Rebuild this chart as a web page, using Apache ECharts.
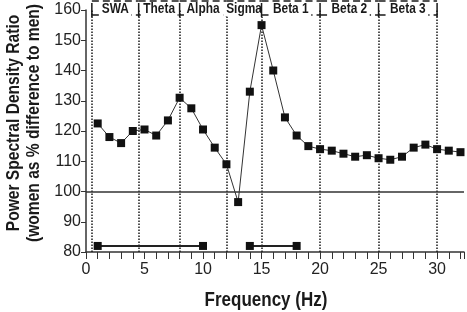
<!DOCTYPE html>
<html><head><meta charset="utf-8">
<script src="https://cdn.jsdelivr.net/npm/echarts@6/dist/echarts.min.js"></script>
<style>html,body{margin:0;padding:0;background:#fff}#c{width:467px;height:312px}</style>
</head><body><div id="c"></div>
<script>
// ---- data ----
const freqs = [1,2,3,4,5,6,7,8,9,10,11,12,13,14,15,16,17,18,19,20,21,22,23,24,25,26,27,28,29,30,31,32];
const ratios = [122.5,118,116,120,120.5,118.5,123.5,131,127.5,120.5,114.5,109,96.5,133,155,140,124.5,118.5,115,114,113.5,112.5,111.5,112,111,110.5,111.5,114.5,115.5,114,113.5,113];
const sigSegments = [[1,10],[14,18]];
const sigLevel = 82;
const refLevel = 100;
const bandEdges = [0.5,4.5,8,12,15,20,25,30];
const bandNames = ['SWA','Theta','Alpha','Sigma','Beta 1','Beta 2','Beta 3'];
const yMin = 80, yMax = 160, yStep = 10;
const xMin = 0, xMax = 32.3, xStep = 1, xLabelEvery = 5;
const xTitle = 'Frequency (Hz)';
const yTitle = 'Power Spectral Density Ratio\n(women as % difference to men)';

const FONT = '"Liberation Sans",Arial,sans-serif';
const INK = '#1a1a1a';

const chart = echarts.init(document.getElementById('c'), null, {renderer:'canvas'});

const bandData = bandNames.map((n,i)=>[bandEdges[i], bandEdges[i+1]]);

const series = [
  {
    type:'line', name:'ratio',
    data: freqs.map((f,i)=>[f, ratios[i]]),
    symbol:'rect', symbolSize:8,
    itemStyle:{color:'#111'},
    lineStyle:{color:'#333', width:1},
    z:5,
    markLine:{
      silent:true, symbol:'none', label:{show:false}, animation:false,
      lineStyle:{type:'dotted', color:INK, width:1.5},
      data: bandEdges.map(x=>({xAxis:x})).concat([{yAxis:refLevel, lineStyle:{type:'solid', color:'#333', width:1.5}}])
    }
  }
];
sigSegments.forEach(seg=>{
  series.push({
    type:'line', data: seg.map(x=>[x, sigLevel]),
    symbol:'rect', symbolSize:8,
    itemStyle:{color:'#111'},
    lineStyle:{color:'#222', width:2}, z:6
  });
});
series.push({
  type:'custom', clip:false, silent:true,
  data: bandData,
  encode:{x:[0,1]},
  renderItem:function(params, api){
    const s = api.value(0), e = api.value(1);
    const p0 = api.coord([s, yMax]), p1 = api.coord([e, yMax]);
    const y0 = p0[1];
    const last = params.dataIndex === bandNames.length-1;
    const ch = [
      {type:'line', shape:{x1:p0[0], y1:y0-9, x2:p1[0], y2:y0-9}, style:{stroke:INK, lineWidth:1.5, lineDash:[7,4]}},
      {type:'line', shape:{x1:p0[0], y1:y0+5, x2:p1[0], y2:y0+5}, style:{stroke:INK, lineWidth:1.5, lineDash:[7,4]}},
      {type:'line', shape:{x1:p0[0], y1:y0-7, x2:p0[0], y2:y0+7}, style:{stroke:INK, lineWidth:1.5}}
    ];
    if(last) ch.push({type:'line', shape:{x1:p1[0], y1:y0-7, x2:p1[0], y2:y0+7}, style:{stroke:INK, lineWidth:1.5}});
    ch.push({type:'text', x:(p0[0]+p1[0])/2, y:y0-0.5, scaleX:0.85, style:{text:bandNames[params.dataIndex], fill:INK, font:'bold 14px '+FONT, align:'center', verticalAlign:'middle', backgroundColor:'#fff', padding:[0,3]}});
    return {type:'group', children:ch};
  },
  z:10
});

chart.setOption({
  animation:false,
  backgroundColor:'#fff',
  grid:{left:86, right:2, top:10, bottom:60, containLabel:false},
  xAxis:{
    type:'value', min:xMin, max:xMax, interval:xStep,
    axisLine:{show:true, lineStyle:{color:'#333', width:1.5}},
    axisTick:{show:true, length:7, lineStyle:{color:'#333', width:1}},
    axisLabel:{fontFamily:FONT, fontSize:16, color:'#222', margin:10,
      formatter:v=> (Math.abs(v % xLabelEvery) < 1e-6) ? String(v) : ''},
    splitLine:{show:false}
  },
  yAxis:{
    type:'value', min:yMin, max:yMax, interval:yStep,
    axisLine:{show:true, lineStyle:{color:'#333', width:1.5}},
    axisTick:{show:true, length:5, lineStyle:{color:'#333', width:1}},
    axisLabel:{fontFamily:FONT, fontSize:16, color:'#222', margin:5},
    splitLine:{show:false}
  },
  graphic:[
    {type:'text', x:266, y:300, scaleX:0.85, style:{text:xTitle, font:'bold 20px '+FONT, fill:INK, align:'center', verticalAlign:'middle'}},
    {type:'text', x:24, y:123, rotation:Math.PI/2, scaleX:0.82, style:{text:yTitle, font:'bold 19px '+FONT, fill:INK, align:'center', verticalAlign:'middle', lineHeight:20}}
  ],
  series:series
});
</script>
</body></html>
